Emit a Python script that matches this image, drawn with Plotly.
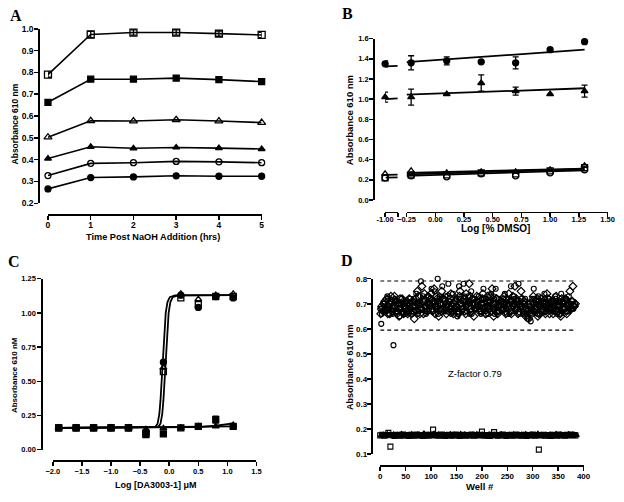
import plotly.graph_objects as go

W, H = 624, 502
def px(x): return x / W
def py(y): return 1 - y / H

# ---------------- Panel A data ----------------
a_time = [0, 1, 2, 3, 4, 5]
a_open_sq = [0.790, 0.974, 0.983, 0.983, 0.978, 0.972]
a_open_sq_err = [0.012, 0.014, 0.012, 0.012, 0.012, 0.012]
a_fill_sq = [0.663, 0.769, 0.769, 0.774, 0.767, 0.758]
a_open_tri = [0.503, 0.578, 0.577, 0.583, 0.577, 0.570]
a_fill_tri = [0.405, 0.459, 0.452, 0.456, 0.453, 0.449]
a_open_circ = [0.327, 0.383, 0.386, 0.392, 0.390, 0.386]
a_fill_circ = [0.266, 0.318, 0.321, 0.326, 0.324, 0.324]

# ---------------- Panel B data ----------------
b_x = [-0.21, 0.10, 0.40, 0.70, 1.00, 1.30]
b_x_break = [-1.0]
b_fill_circ = [1.36, 1.38, 1.37, 1.36, 1.49, 1.57]
b_fill_circ_err = [0.07, 0.04, 0.0, 0.06, 0.0, 0.0]
b_fill_circ_break = [1.35]
b_fill_circ_break_err = [0.03]
b_fill_tri = [1.02, 1.05, 1.16, 1.08, 1.05, 1.08]
b_fill_tri_err = [0.08, 0.0, 0.08, 0.04, 0.0, 0.06]
b_fill_tri_break = [1.02]
b_fill_tri_break_err = [0.05]
b_open_tri = [0.29, 0.27, 0.28, 0.28, 0.30, 0.34]
b_open_tri_break = [0.26]
b_open_sq = [0.25, 0.25, 0.27, 0.26, 0.29, 0.32]
b_open_sq_break = [0.22]
b_open_circ = [0.24, 0.23, 0.26, 0.24, 0.27, 0.30]
b_open_circ_break = [0.22]
b_fit_x = [-0.25, 1.30]
b_fit_circ = [1.367, 1.490]
b_fit_tri = [1.044, 1.108]
b_fit_open_tri = [0.270, 0.310]
b_fit_open_sq = [0.255, 0.305]
b_fit_open_circ = [0.240, 0.295]
b_fit_break_x = [-0.995, -0.89]
b_fit_break_circ = [1.325, 1.330]
b_fit_break_tri = [1.000, 1.008]
b_fit_break_open_tri = [0.250, 0.252]
b_fit_break_open_sq = [0.222, 0.224]

# ---------------- Panel C data ----------------
c_x = [-1.9, -1.6, -1.3, -1.0, -0.7, -0.4, -0.1, 0.2, 0.5, 0.8, 1.1]
c_fill_circ = [0.16, 0.16, 0.16, 0.16, 0.16, 0.12, 0.64, 1.13, 1.04, 1.12, 1.11]
c_open_sq = [0.16, 0.16, 0.16, 0.16, 0.16, 0.12, 0.57, 1.11, 1.06, 1.12, 1.12]
c_open_tri = [0.16, 0.16, 0.16, 0.16, 0.16, 0.14, 0.60, 1.14, 1.10, 1.13, 1.14]
c_fill_sq = [0.16, 0.16, 0.16, 0.16, 0.16, 0.11, 0.115, 0.16, 0.17, 0.22, 0.17]
c_fill_sq_err = [0, 0, 0, 0, 0, 0, 0, 0, 0, 0.025, 0]
c_fill_tri = [0.16, 0.16, 0.16, 0.16, 0.16, 0.148, 0.157, 0.16, 0.17, 0.17, 0.18]
c_curve1_x = [-1.9, -0.30, -0.24, -0.20, -0.17, -0.15, -0.13, -0.11, -0.09, -0.06, -0.03, 0.01, 0.10, 1.1]
c_curve1_y = [0.16, 0.16, 0.165, 0.19, 0.26, 0.36, 0.52, 0.70, 0.86, 1.00, 1.08, 1.115, 1.128, 1.13]
c_curve2_x = [-1.9, -0.25, -0.19, -0.15, -0.12, -0.10, -0.08, -0.06, -0.04, -0.01, 0.02, 0.06, 0.15, 1.1]
c_curve2_y = [0.16, 0.16, 0.165, 0.19, 0.26, 0.36, 0.52, 0.70, 0.86, 1.00, 1.08, 1.115, 1.128, 1.13]
c_flat1_x = [-1.9, 0.2, 0.5, 0.8, 1.1]
c_flat1_y = [0.16, 0.161, 0.165, 0.175, 0.192]
c_flat2_x = [-1.9, 1.1]
c_flat2_y = [0.16, 0.17]

# ---------------- Panel D data ----------------
d_diamond_wells = list(range(1, 384, 3)) + list(range(3, 385, 3))
d_diamond = [
    0.66, 0.68, 0.70, 0.67, 0.72, 0.69, 0.66, 0.71, 0.68, 0.73, 0.67, 0.70, 0.65, 0.69, 0.72, 0.66,
    0.68, 0.71, 0.67, 0.70, 0.66, 0.69, 0.64, 0.72, 0.75, 0.68, 0.70, 0.77, 0.66, 0.71, 0.69, 0.73,
    0.70, 0.74, 0.67, 0.76, 0.69, 0.72, 0.65, 0.70, 0.75, 0.68, 0.71, 0.66, 0.73, 0.69, 0.74, 0.67,
    0.70, 0.68, 0.72, 0.66, 0.75, 0.69, 0.71, 0.67, 0.74, 0.70, 0.78, 0.68, 0.72, 0.65, 0.70, 0.73,
    0.69, 0.72, 0.67, 0.74, 0.70, 0.66, 0.73, 0.68, 0.71, 0.76, 0.65, 0.70, 0.72, 0.67, 0.69, 0.71,
    0.68, 0.73, 0.66, 0.70, 0.74, 0.67, 0.71, 0.69, 0.77, 0.72, 0.66, 0.70, 0.75, 0.68, 0.71, 0.65,
    0.67, 0.64, 0.70, 0.66, 0.73, 0.68, 0.71, 0.65, 0.69, 0.72, 0.67, 0.70, 0.66, 0.74, 0.68, 0.69,
    0.71, 0.66, 0.70, 0.73, 0.67, 0.69, 0.65, 0.71, 0.68, 0.72, 0.66, 0.70, 0.75, 0.68, 0.77, 0.69,
    # second interleaved set
    0.69, 0.67, 0.71, 0.68, 0.66, 0.70, 0.73, 0.67, 0.69, 0.71, 0.66, 0.68, 0.72, 0.70, 0.67, 0.69,
    0.70, 0.66, 0.72, 0.68, 0.71, 0.67, 0.69, 0.70, 0.73, 0.66, 0.68, 0.71, 0.74, 0.69, 0.67, 0.70,
    0.72, 0.68, 0.71, 0.66, 0.73, 0.69, 0.70, 0.67, 0.72, 0.71, 0.68, 0.70, 0.67, 0.72, 0.69, 0.66,
    0.71, 0.69, 0.67, 0.73, 0.70, 0.68, 0.72, 0.66, 0.71, 0.69, 0.73, 0.67, 0.70, 0.68, 0.71, 0.69,
    0.67, 0.70, 0.72, 0.68, 0.66, 0.71, 0.69, 0.73, 0.67, 0.70, 0.68, 0.72, 0.66, 0.69, 0.71, 0.68,
    0.70, 0.67, 0.72, 0.69, 0.71, 0.66, 0.73, 0.70, 0.68, 0.71, 0.67, 0.69, 0.72, 0.70, 0.66, 0.68,
    0.70, 0.66, 0.68, 0.71, 0.67, 0.69, 0.72, 0.66, 0.70, 0.68, 0.71, 0.67, 0.69, 0.72, 0.66, 0.70,
    0.68, 0.71, 0.67, 0.69, 0.70, 0.66, 0.72, 0.68, 0.71, 0.67, 0.69, 0.70, 0.68, 0.71, 0.69, 0.70,
]
d_circle_wells = list(range(2, 385, 3)) + list(range(0, 384, 3))
d_circle = [
    0.62, 0.67, 0.70, 0.68, 0.73, 0.66, 0.71, 0.69, 0.535, 0.72, 0.67, 0.70, 0.65, 0.68, 0.71, 0.69,
    0.66, 0.70, 0.68, 0.72, 0.67, 0.69, 0.71, 0.74, 0.66, 0.70, 0.79, 0.68, 0.72, 0.67, 0.70, 0.73,
    0.69, 0.76, 0.71, 0.75, 0.68, 0.80, 0.72, 0.70, 0.77, 0.67, 0.73, 0.69, 0.78, 0.71, 0.66, 0.74,
    0.68, 0.72, 0.65, 0.77, 0.70, 0.67, 0.78, 0.71, 0.69, 0.73, 0.66, 0.75, 0.70, 0.72, 0.68, 0.71,
    0.73, 0.67, 0.70, 0.76, 0.69, 0.72, 0.66, 0.71, 0.74, 0.68, 0.70, 0.76, 0.67, 0.72, 0.69, 0.71,
    0.70, 0.74, 0.68, 0.72, 0.66, 0.77, 0.70, 0.73, 0.67, 0.71, 0.78, 0.69, 0.72, 0.66, 0.70, 0.68,
    0.64, 0.69, 0.63, 0.72, 0.76, 0.68, 0.70, 0.73, 0.66, 0.71, 0.69, 0.74, 0.67, 0.70, 0.72, 0.68,
    0.70, 0.67, 0.73, 0.69, 0.71, 0.66, 0.74, 0.70, 0.68, 0.72, 0.67, 0.73, 0.69, 0.71, 0.68, 0.70,
    # second interleaved set
    0.68, 0.66, 0.70, 0.69, 0.67, 0.72, 0.68, 0.70, 0.66, 0.69, 0.71, 0.67, 0.70, 0.68, 0.72, 0.66,
    0.69, 0.71, 0.67, 0.70, 0.68, 0.66, 0.72, 0.69, 0.70, 0.67, 0.71, 0.68, 0.73, 0.69, 0.66, 0.70,
    0.68, 0.72, 0.67, 0.70, 0.69, 0.71, 0.66, 0.73, 0.68, 0.70, 0.72, 0.67, 0.69, 0.71, 0.68, 0.70,
    0.67, 0.71, 0.69, 0.66, 0.72, 0.70, 0.68, 0.73, 0.69, 0.67, 0.71, 0.70, 0.66, 0.72, 0.68, 0.69,
    0.71, 0.68, 0.66, 0.70, 0.72, 0.67, 0.69, 0.71, 0.68, 0.70, 0.73, 0.66, 0.69, 0.71, 0.67, 0.70,
    0.68, 0.72, 0.69, 0.66, 0.70, 0.71, 0.67, 0.69, 0.72, 0.68, 0.70, 0.66, 0.71, 0.69, 0.67, 0.72,
    0.66, 0.65, 0.69, 0.67, 0.70, 0.72, 0.68, 0.66, 0.71, 0.69, 0.67, 0.70, 0.72, 0.68, 0.69, 0.71,
    0.67, 0.70, 0.68, 0.72, 0.66, 0.69, 0.71, 0.67, 0.70, 0.68, 0.72, 0.69, 0.67, 0.70, 0.68, 0.69,
]
d_square_wells = list(range(0, 388, 4))
d_square = [
    0.175, 0.177, 0.174, 0.176, 0.185, 0.130, 0.176, 0.173, 0.177, 0.175, 0.174, 0.178, 0.175, 0.176, 0.173, 0.177,
    0.175, 0.174, 0.178, 0.176, 0.175, 0.173, 0.177, 0.176, 0.174, 0.177, 0.198, 0.175, 0.176, 0.174, 0.178, 0.175,
    0.173, 0.176, 0.177, 0.174, 0.175, 0.178, 0.176, 0.173, 0.175, 0.177, 0.174, 0.176, 0.175, 0.178, 0.174, 0.176,
    0.175, 0.177, 0.190, 0.174, 0.176, 0.175, 0.173, 0.177, 0.188, 0.175, 0.174, 0.176, 0.178, 0.175, 0.173, 0.176,
    0.177, 0.174, 0.175, 0.178, 0.176, 0.174, 0.175, 0.177, 0.173, 0.176, 0.175, 0.178, 0.174, 0.176, 0.118, 0.175,
    0.177, 0.174, 0.176, 0.175, 0.173, 0.177, 0.176, 0.174, 0.178, 0.175, 0.176, 0.174, 0.177, 0.175, 0.178, 0.176,
    0.175,
]
d_triangle_wells = list(range(2, 390, 4))
d_triangle = [
    0.176, 0.178, 0.174, 0.180, 0.177, 0.175, 0.179, 0.173, 0.177, 0.176, 0.181, 0.174, 0.178, 0.175, 0.177, 0.180,
    0.176, 0.174, 0.179, 0.177, 0.175, 0.183, 0.176, 0.178, 0.174, 0.177, 0.182, 0.175, 0.179, 0.176, 0.173, 0.178,
    0.177, 0.175, 0.180, 0.174, 0.178, 0.176, 0.177, 0.181, 0.175, 0.179, 0.174, 0.177, 0.176, 0.178, 0.175, 0.180,
    0.176, 0.174, 0.178, 0.177, 0.175, 0.179, 0.176, 0.173, 0.178, 0.177, 0.175, 0.180, 0.176, 0.178, 0.174, 0.177,
    0.176, 0.179, 0.175, 0.177, 0.174, 0.178, 0.176, 0.180, 0.175, 0.177, 0.178, 0.174, 0.176, 0.182, 0.175, 0.177,
    0.176, 0.178, 0.174, 0.179, 0.177, 0.175, 0.181, 0.176, 0.178, 0.174, 0.177, 0.176, 0.180, 0.175, 0.178, 0.177,
    0.176,
]
d_limit_x = [0, 384]
d_upper_limit = [0.791, 0.791]
d_lower_limit = [0.595, 0.595]

# ---------------- tick labels ----------------
a_yticks = [0.2, 0.3, 0.4, 0.5, 0.6, 0.7, 0.8, 0.9, 1.0]
b_xticks = [-0.25, 0.0, 0.25, 0.5, 0.75, 1.0, 1.25, 1.5]
b_yticks = [0.0, 0.2, 0.4, 0.6, 0.8, 1.0, 1.2, 1.4, 1.6]
c_xticks = [-2.0, -1.5, -1.0, -0.5, 0.0, 0.5, 1.0, 1.5]
c_yticks = [0.0, 0.25, 0.5, 0.75, 1.0, 1.25]
d_xticks = [0, 50, 100, 150, 200, 250, 300, 350, 400]
d_yticks = [0.1, 0.2, 0.3, 0.4, 0.5, 0.6, 0.7, 0.8]

BLACK = "black"
fig = go.Figure()

def add(x, y, xa, ya, symbol=None, size=6, mode="lines+markers", err=None, lw=1.6, dash=None, mlw=1.3):
    kw = dict(x=x, y=y, xaxis=xa, yaxis=ya, mode=mode, showlegend=False,
              cliponaxis=False, hoverinfo="skip")
    if "lines" in mode:
        kw["line"] = dict(color=BLACK, width=lw, dash=dash)
    if "markers" in mode:
        kw["marker"] = dict(symbol=symbol, size=size, color=BLACK,
                            line=dict(color=BLACK, width=mlw))
    if err is not None:
        kw["error_y"] = dict(type="data", array=err, visible=True, color=BLACK,
                             thickness=1.3, width=3)
    fig.add_trace(go.Scatter(**kw))

# Panel A
add(a_time, a_open_sq, "x", "y", "square-open", 7, err=a_open_sq_err)
add(a_time, a_fill_sq, "x", "y", "square", 6)
add(a_time, a_open_tri, "x", "y", "triangle-up-open", 7)
add(a_time, a_fill_tri, "x", "y", "triangle-up", 6)
add(a_time, a_open_circ, "x", "y", "circle-open", 6)
add(a_time, a_fill_circ, "x", "y", "circle", 6)

# Panel B fit lines
for yy in [b_fit_circ, b_fit_tri, b_fit_open_tri, b_fit_open_sq, b_fit_open_circ]:
    add(b_fit_x, yy, "x2", "y2", mode="lines", lw=1.8)
for yy in [b_fit_break_circ, b_fit_break_tri, b_fit_break_open_tri, b_fit_break_open_sq]:
    add(b_fit_break_x, yy, "x3", "y2", mode="lines", lw=1.8)
# Panel B points
add(b_x, b_fill_circ, "x2", "y2", "circle", 6, mode="markers", err=b_fill_circ_err)
add(b_x, b_fill_tri, "x2", "y2", "triangle-up", 6, mode="markers", err=b_fill_tri_err)
add(b_x, b_open_tri, "x2", "y2", "triangle-up-open", 6, mode="markers")
add(b_x, b_open_sq, "x2", "y2", "square-open", 6, mode="markers")
add(b_x, b_open_circ, "x2", "y2", "circle-open", 6, mode="markers")
add(b_x_break, b_fill_circ_break, "x3", "y2", "circle", 6, mode="markers", err=b_fill_circ_break_err)
add(b_x_break, b_fill_tri_break, "x3", "y2", "triangle-up", 6, mode="markers", err=b_fill_tri_break_err)
add(b_x_break, b_open_tri_break, "x3", "y2", "triangle-up-open", 6, mode="markers")
add(b_x_break, b_open_sq_break, "x3", "y2", "square-open", 6, mode="markers")
add(b_x_break, b_open_circ_break, "x3", "y2", "circle-open", 6, mode="markers")

# Panel C
add(c_curve1_x, c_curve1_y, "x4", "y4", mode="lines", lw=1.8)
add(c_curve2_x, c_curve2_y, "x4", "y4", mode="lines", lw=1.8)
add(c_flat1_x, c_flat1_y, "x4", "y4", mode="lines", lw=1.8)
add(c_flat2_x, c_flat2_y, "x4", "y4", mode="lines", lw=1.8)
add(c_x, c_fill_sq, "x4", "y4", "square", 6, mode="markers", err=c_fill_sq_err)
add(c_x, c_fill_tri, "x4", "y4", "triangle-up", 6, mode="markers")
add(c_x, c_open_tri, "x4", "y4", "triangle-up-open", 6, mode="markers")
add(c_x, c_open_sq, "x4", "y4", "square-open", 6, mode="markers")
add(c_x, c_fill_circ, "x4", "y4", "circle", 6, mode="markers")

# Panel D
add(d_limit_x, d_upper_limit, "x5", "y5", mode="lines", lw=1.2, dash="4px,3px")
add(d_limit_x, d_lower_limit, "x5", "y5", mode="lines", lw=1.2, dash="4px,3px")
add(d_square_wells, d_square, "x5", "y5", "square-open", 5, mode="markers", mlw=1.1)
add(d_triangle_wells, d_triangle, "x5", "y5", "triangle-up", 5, mode="markers", mlw=1.1)
add(d_diamond_wells, d_diamond, "x5", "y5", "diamond-open", 6, mode="markers", mlw=1.15)
add(d_circle_wells, d_circle, "x5", "y5", "circle-open", 5, mode="markers", mlw=1.15)

FONT = "Liberation Sans"
def axis(domain, rng, pos, tickvals, fmt=None, ticktext=None, fs=8, standoff=0):
    d = dict(domain=domain, range=rng, anchor="free", position=pos,
             showline=True, linecolor=BLACK, linewidth=1.8,
             ticks="outside", ticklen=4, tickwidth=1.5, tickcolor=BLACK,
             showgrid=False, zeroline=False, tickvals=tickvals,
             ticklabelstandoff=standoff,
             tickfont=dict(family=FONT, size=fs, color=BLACK, weight="bold"),
             fixedrange=True)
    if fmt:
        d["tickformat"] = fmt
    if ticktext is not None:
        d["ticktext"] = ticktext
    return d

layout = dict(
    width=W, height=H, autosize=False,
    margin=dict(l=0, r=0, t=0, b=0),
    paper_bgcolor="white", plot_bgcolor="rgba(0,0,0,0)",
    xaxis=axis([px(40), px(259.3)], [0, 5], py(213.3), a_time, "d", fs=8.5, standoff=-2),
    yaxis=axis([py(202.3), py(24.3)], [0.2, 1.0], px(30), a_yticks, ".1f", fs=8.5, standoff=-1),
    xaxis2=axis([px(408), px(614.3)], [-0.25, 1.5], py(210.7), b_xticks, ".2f", fs=7.5, standoff=-4),
    xaxis3=axis([px(386), px(399)], [-1.0, -0.89], py(210.7), [-1.0, -0.89],
                ticktext=["-1.00", ""], fs=7.5, standoff=-4),
    yaxis2=axis([py(199), py(34.3)], [0, 1.6], px(373.7), b_yticks, ".1f", fs=7.5, standoff=-1),
    xaxis4=axis([px(45), px(254)], [-2.0, 1.5], py(464.3), c_xticks, ".1f", fs=7.5, standoff=-1),
    yaxis4=axis([py(453.7), py(279.3)], [0, 1.25], px(33.3), c_yticks, ".2f", fs=7.5, standoff=0),
    xaxis5=axis([px(381), px(589.7)], [0, 400], py(469.3), d_xticks, "d", fs=8, standoff=-1),
    yaxis5=axis([py(458.3), py(279.3)], [0.1, 0.8], px(371.3), d_yticks, ".1f", fs=8, standoff=-2),
)
fig.update_layout(**layout)

def ann(text, x, y, size, angle=0, bold=True, family=FONT):
    fig.add_annotation(text=text, x=px(x), y=py(y), xref="paper", yref="paper",
                       showarrow=False, textangle=angle, xanchor="center", yanchor="middle",
                       font=dict(family=family, size=size, color=BLACK,
                                 weight="bold" if bold else "normal"))

SERIF = "Liberation Serif"
ann("A", 7, 11, 16, family=SERIF)
ann("B", 347, 9, 16, family=SERIF)
ann("C", 5, 262, 16, family=SERIF)
ann("D", 347, 261, 16, family=SERIF)

ann("Absorbance 610 nm", 6, 121, 8.5, angle=-90)
ann("Time Post NaOH Addition (hrs)", 147.5, 237, 9.2)
ann("Absorbance 610 nm", 349, 117.5, 9.5, angle=-90)
ann("Log [% DMSO]", 499, 228.5, 10)
ann("Absorbance 610 nM", 5, 377.7, 8, angle=-90)
ann("Log [DA3003-1] μM", 151, 490, 9)
ann("Absorbance 610 nm", 350, 369.3, 9, angle=-90)
ann("Well #", 483.3, 491, 9.5)
ann("Z-factor 0.79", 478.7, 376, 9.5, bold=False)

fig.write_html(
    "out.html",
    config={"displayModeBar": False, "staticPlot": True},
    post_script="document.body.style.margin='0';document.body.style.padding='0';"
                "document.documentElement.style.overflow='hidden';",
)
